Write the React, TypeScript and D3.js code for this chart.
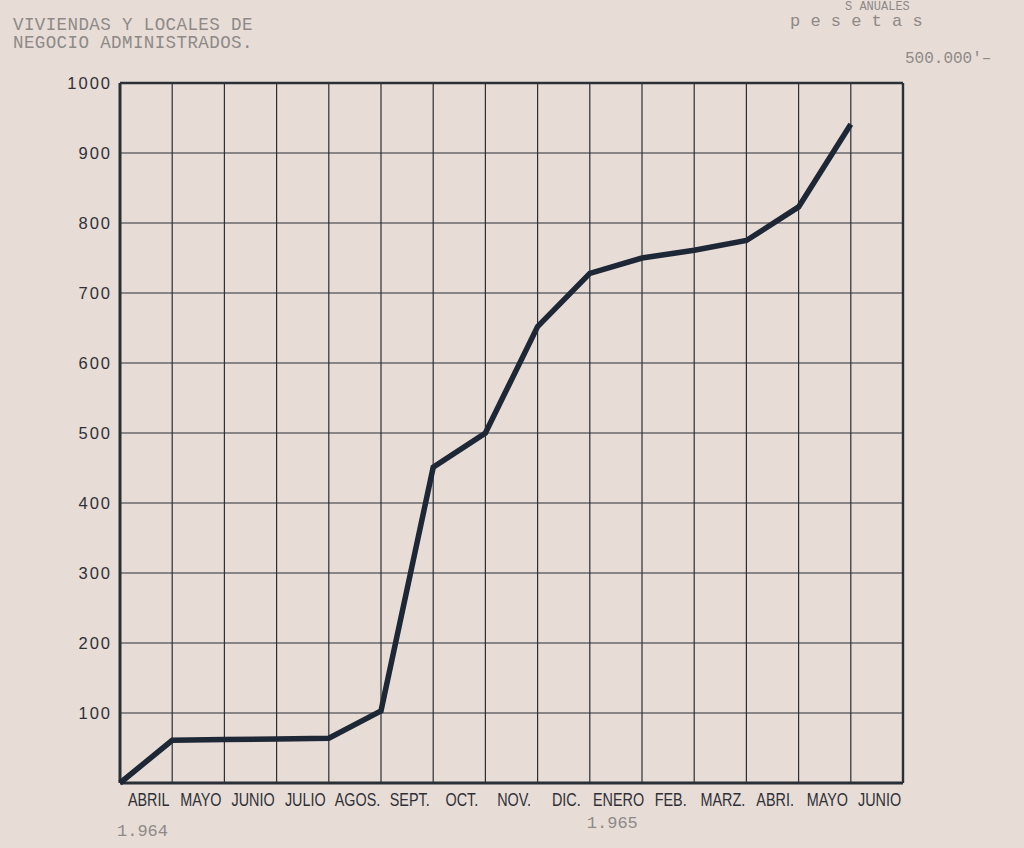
import React from "react";
import * as d3 from "d3";

const months = ["ABRIL", "MAYO", "JUNIO", "JULIO", "AGOS.", "SEPT.", "OCT.", "NOV.", "DIC.", "ENERO", "FEB.", "MARZ.", "ABRI.", "MAYO", "JUNIO"];
const values = [0, 61, 62, 63, 64, 103, 451, 500, 652, 728, 750, 761, 775, 823, 941];
const yTicks = [100, 200, 300, 400, 500, 600, 700, 800, 900, 1000];
const years = [{ label: "1.964", at: 0 }, { label: "1.965", at: 9 }];
const titleLines = ["VIVIENDAS Y LOCALES DE", "NEGOCIO ADMINISTRADOS."];
const unitTop = "S ANUALES";
const unitLabel = "p e s e t a s";
const scaleNote = "500.000'–";

const W = 1024;
const H = 848;
const left = 120;
const right = 903;
const top = 83;
const bottom = 783;

export default function App() {
  const x = d3.scaleLinear().domain([0, months.length]).range([left, right]);
  const y = d3.scaleLinear().domain([0, 1000]).range([bottom, top]);
  const line = d3
    .line<number>()
    .x((_, i) => x(i))
    .y((d) => y(d))
    .curve(d3.curveLinear);

  const vLines = d3.range(1, months.length);
  const ink = "#2b2f36";
  const typeInk = "#8d8a88";
  const mono = "'Liberation Mono', 'DejaVu Sans Mono', monospace";
  const sans = "'Liberation Sans', Arial, sans-serif";

  return (
    <svg
      width={W}
      height={H}
      viewBox={`0 0 ${W} ${H}`}
      style={{ position: "absolute", left: 0, top: 0, display: "block" }}
    >
      <rect x={0} y={0} width={W} height={H} fill="#e7dcd6" />

      {/* typewritten headers */}
      {titleLines.map((t, i) => (
        <text key={t} x={13} y={30 + i * 18} fontFamily={mono} fontSize={17.5} fill={typeInk} letterSpacing={0.4}>
          {t}
        </text>
      ))}
      <text x={845} y={10} fontFamily={mono} fontSize={12} fill={typeInk}>
        {unitTop}
      </text>
      <text x={790} y={26} fontFamily={mono} fontSize={17} fill={typeInk}>
        {unitLabel}
      </text>
      <text x={905} y={63} fontFamily={mono} fontSize={16} fill={typeInk}>
        {scaleNote}
      </text>

      {/* grid */}
      {yTicks.slice(0, -1).map((v) => (
        <line key={v} x1={left} x2={right} y1={y(v)} y2={y(v)} stroke={ink} strokeWidth={1.2} />
      ))}
      {vLines.map((i) => (
        <line key={i} x1={x(i)} x2={x(i)} y1={top} y2={bottom} stroke={ink} strokeWidth={1.2} />
      ))}
      {/* frame */}
      <line x1={left} x2={right} y1={top} y2={top} stroke={ink} strokeWidth={2.4} />
      <line x1={right} x2={right} y1={top} y2={bottom} stroke={ink} strokeWidth={2.4} />
      <line x1={left} x2={left} y1={top} y2={bottom} stroke={ink} strokeWidth={3} />
      <line x1={left} x2={right} y1={bottom} y2={bottom} stroke={ink} strokeWidth={3} />

      {/* y labels */}
      {yTicks.map((v) => (
        <text
          key={v}
          x={112}
          y={y(v)}
          dy="0.36em"
          textAnchor="end"
          fontFamily={sans}
          fontSize={16.5}
          letterSpacing={2}
          fill="#2f3137"
        >
          {v}
        </text>
      ))}

      {/* month labels (condensed lettering) */}
      {months.map((m, i) => (
        <g key={i} transform={`translate(${x(i + 0.55)},806) scale(0.8,1)`}>
          <text x={0} y={0} textAnchor="middle" fontFamily={sans} fontSize={18} fill="#2f3137">
            {m}
          </text>
        </g>
      ))}
      {years.map((yr) => (
        <text
          key={yr.label}
          x={x(yr.at) - 3}
          y={yr.at === 0 ? 836 : 828}
          fontFamily={mono}
          fontSize={17}
          fill={typeInk}
        >
          {yr.label}
        </text>
      ))}

      {/* data line */}
      <path
        d={line(values) || ""}
        fill="none"
        stroke="#1e2735"
        strokeWidth={5.5}
        strokeLinejoin="miter"
        strokeLinecap="butt"
      />
    </svg>
  );
}
